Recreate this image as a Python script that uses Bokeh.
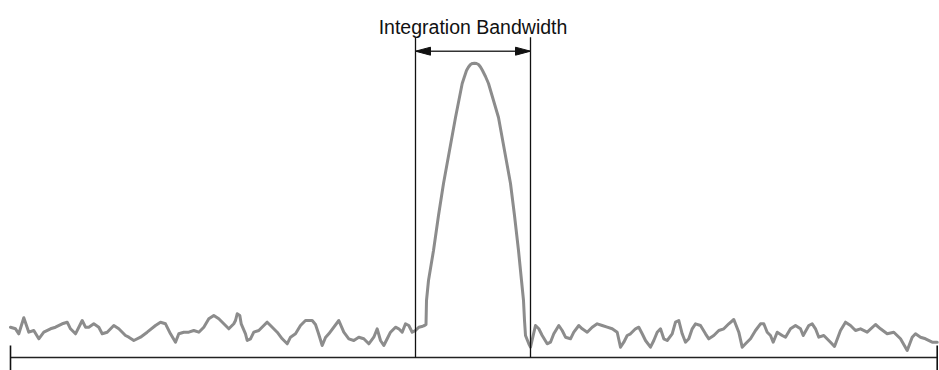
from bokeh.plotting import figure
from bokeh.models import Range1d, Label
from bokeh.embed import file_html
from bokeh.resources import INLINE

# ---- data (frequency units, amplitude units) ----
left_noise_f = [0, 5, 8.3, 13.3, 18.3, 23.3, 28.3, 33.3, 40, 45, 51.7, 56.7, 60, 65, 71.7, 75, 78.3,
                83.3, 88.3, 91.7, 96.7, 103.3, 108.3, 115, 118.3, 123.3, 130, 136.7, 145, 150, 155,
                160, 165, 168.3, 173.3, 178.3, 183.3, 188.3, 193.3, 198.3, 203.3, 208.3, 213.3, 218.3,
                223.3, 225, 226.7, 229.3, 230.7, 235, 236.7, 240, 243.3, 248.3, 253.3, 256.7, 260,
                266.7, 271.7, 276.7, 280, 285, 290, 295, 301.7, 305, 308, 311.7, 315, 318.3, 328.3,
                333.3, 338.3, 343.3, 348.3, 353.3, 358.3, 363.3, 366.7, 370, 373.3, 376.7, 380, 385,
                388.3, 391.7, 395, 398.3, 401.7, 405, 408.3, 412.3, 414]
left_noise_a = [30.3, 28.7, 23.7, 39.7, 25.3, 27, 18.7, 25.3, 28.7, 30.3, 33.7, 35.3, 28.7, 23.7, 37,
                30.3, 30.3, 33.7, 30.3, 23.7, 25.3, 32, 28.7, 22, 20.3, 17, 20.3, 25.3, 32, 35.3, 33.7,
                23.7, 15.3, 23.7, 25.3, 25.3, 27, 25.3, 30.3, 38.7, 42, 38.7, 33.7, 28.7, 33.7, 37,
                43.7, 42, 33.7, 23.7, 17, 18.7, 25.3, 27, 32, 35.3, 32, 25.3, 18.7, 13.7, 20.3, 23.7,
                32, 37, 37, 33, 24, 12, 20, 23.7, 37, 25.3, 18.7, 17, 20.3, 18.7, 13.7, 20.3, 28.7,
                17, 12, 18.7, 25.3, 30.3, 28.7, 25.3, 33.7, 32, 25.3, 27, 30.3, 31.3, 32]
peak_f = [415.5, 416, 418, 423, 428, 433, 439, 445, 451.7, 454, 456, 458, 460, 462, 464, 466, 468,
          470, 472, 475, 478, 483, 488, 494, 500, 504, 508, 511, 513, 514, 515, 518.3]
peak_a = [33, 57, 77, 107, 142, 174, 207, 240, 274, 281, 287, 290.5, 293, 294.1, 294.3, 294, 293,
          290.5, 287, 281, 274, 257, 240, 207, 174, 142, 107, 77, 57, 37, 22, 13.7]
right_noise_f = [520, 525, 528.3, 531.7, 536.7, 540, 543.3, 548.3, 551.7, 555, 560, 563.3, 568.3,
                 571.7, 576.7, 581.7, 586.7, 591.7, 596.7, 601.7, 606.7, 610, 613.3, 616.7, 620, 625,
                 628.3, 631.7, 635, 640, 643.3, 646.7, 650, 653.3, 656.7, 661.7, 665, 668.3, 671.7,
                 675, 678.3, 681.7, 685, 690, 695, 698.3, 703.3, 708.3, 713.3, 718.3, 723.3, 728.3,
                 731.7, 735, 740, 745, 750, 753.3, 756.7, 760, 762.7, 766.7, 771.7, 775, 780, 785,
                 790, 792.7, 798.3, 801.7, 805, 808.3, 813.3, 820, 824, 830, 835, 840, 845, 850,
                 856.7, 865, 870, 876.7, 883.3, 890, 896.7, 901.7, 905, 910, 915, 921.7, 926.7]
right_noise_a = [10.3, 32, 28.7, 22, 13.7, 15.3, 23.7, 32, 27, 20.3, 18.7, 25.3, 32, 28.7, 25.3,
                 30.3, 33.7, 32, 30.3, 28.7, 25.3, 10.3, 15.3, 22, 23.7, 28.7, 30.3, 23.7, 17, 10.3,
                 17, 25.3, 28.7, 18.7, 17, 23.7, 35.3, 37, 23.7, 15.3, 18.7, 28.7, 33.7, 32, 23.7,
                 18.7, 22, 27, 28.7, 33.7, 38, 25.3, 10.3, 13.7, 18.7, 27, 33.7, 33.7, 25.3, 22,
                 15.3, 25.3, 22, 20.3, 28.7, 32, 28.7, 22, 32, 33.7, 28.7, 20.3, 22, 15.3, 11, 27,
                 35.3, 32, 27, 28.7, 25.3, 33, 28.7, 23.7, 25.3, 18.7, 7, 20.3, 23.7, 20.3, 18.7,
                 15.3, 15.3]

span_start, span_end = 0, 926.7
band_lo, band_hi = 405, 520
marker_top = 320.3
arrow_level = 306.3
label_text = "Integration Bandwidth"

# style constants (screen units == data units here)
HEAD_LEN, HEAD_HALF = 15, 4

freq = left_noise_f + peak_f + right_noise_f
ampl = left_noise_a + peak_a + right_noise_a

p = figure(width=939, height=370, output_backend="svg", toolbar_location=None,
           x_range=Range1d(-10, 929), y_range=Range1d(-13, 357), min_border=0)
p.axis.visible = False
p.grid.visible = False
p.outline_line_color = None
p.background_fill_color = "white"
p.border_fill_color = "white"

# trace
p.line(freq, ampl, line_color="#8c8c8c", line_width=3, line_join="round", line_cap="round")

# baseline and end ticks
p.line([span_start, span_end], [0, 0], line_color="#222222", line_width=1.4)
p.segment(x0=[span_start, span_end], y0=[12, 12], x1=[span_start, span_end], y1=[-13, -13],
          line_color="#111111", line_width=1.6)

# bandwidth markers
p.segment(x0=[band_lo, band_hi], y0=[0, 0], x1=[band_lo, band_hi], y1=[marker_top, marker_top],
          line_color="#111111", line_width=1.3)

# double-headed arrow
p.segment(x0=[band_lo], y0=[arrow_level], x1=[band_hi], y1=[arrow_level],
          line_color="#333333", line_width=1.5)
p.patches(
    xs=[[band_lo, band_lo + HEAD_LEN, band_lo + HEAD_LEN],
        [band_hi, band_hi - HEAD_LEN, band_hi - HEAD_LEN]],
    ys=[[arrow_level, arrow_level + HEAD_HALF, arrow_level - HEAD_HALF],
        [arrow_level, arrow_level + HEAD_HALF, arrow_level - HEAD_HALF]],
    fill_color="#111111", line_color="#111111", line_width=1)

p.add_layout(Label(x=(band_lo + band_hi) / 2, y=331, text=label_text, text_align="center",
                   text_baseline="alphabetic", text_font="Liberation Sans",
                   text_font_size="19.5px", text_color="#111111"))

open("out.html", "w").write(file_html(p, INLINE))
